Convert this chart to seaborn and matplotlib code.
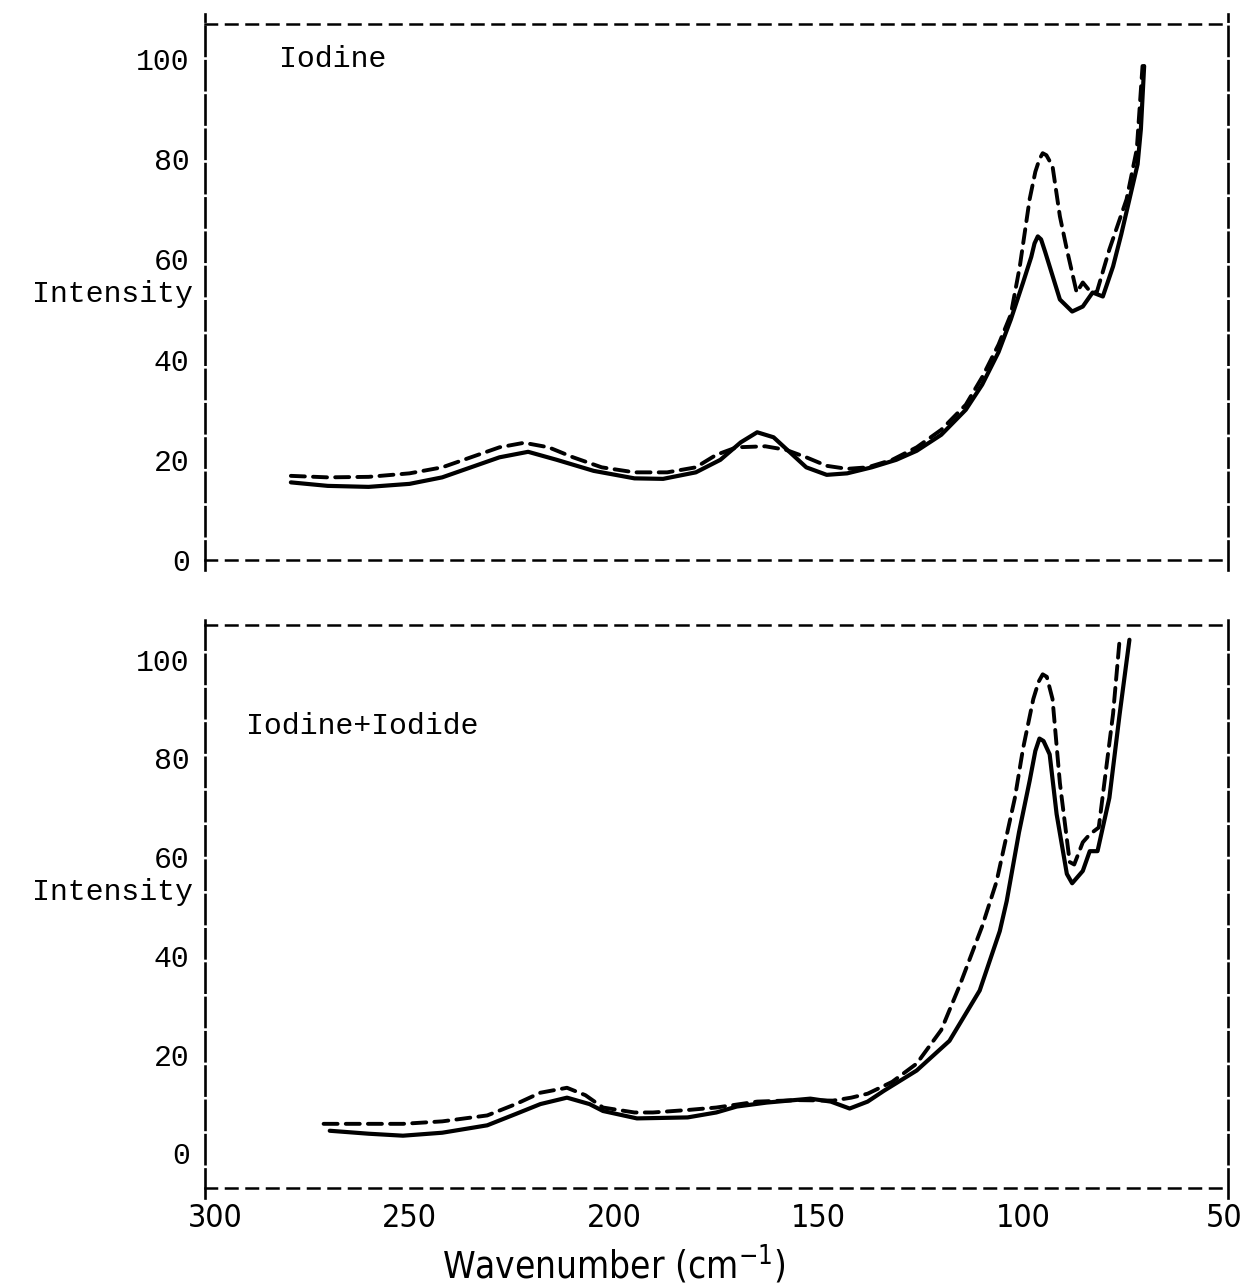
import numpy as np
import pandas as pd
import seaborn as sns
import matplotlib
matplotlib.use("Agg")
import matplotlib.pyplot as plt
from matplotlib import font_manager
from matplotlib.font_manager import FontProperties
from matplotlib.transforms import blended_transform_factory, ScaledTranslation

# ---- spectra: wavenumber (cm^-1) and intensity ----
iodine_solid_x = [279, 270, 260, 250, 242, 235, 228, 221, 214, 205, 195, 188, 180, 174, 169,
                  165, 161, 157, 153, 148, 143, 137, 131, 126, 120, 114, 110, 106, 103, 100,
                  98, 97.2, 96.4, 95.6, 94.6, 93.5, 91, 88, 85.4, 83, 80.5, 78, 76, 74, 72, 71.2, 70.4]
iodine_solid_y = [15.5, 14.8, 14.6, 15.2, 16.5, 18.5, 20.5, 21.6, 20.0, 17.8, 16.3, 16.2, 17.5, 20.0, 23.5,
                  25.5, 24.5, 21.5, 18.5, 17.0, 17.3, 18.5, 20.0, 21.8, 25.0, 30.0, 35.0, 41.5, 48.0, 55.4,
                  60.5, 63.2, 64.6, 64.0, 61.5, 58.6, 52.0, 49.6, 50.6, 53.4, 52.6, 58.6, 65.0, 72.0, 79.0, 86.0, 98.6]

iodine_dash_x = [279, 270, 260, 250, 242, 235, 228, 222, 216, 210, 203, 195, 187, 180, 175,
                 170, 163, 158, 153, 148, 143, 138, 132, 126, 120, 114, 110, 106, 103, 100.8,
                 98.4, 97, 96, 95.2, 94.3, 92.8, 91, 89.3, 86.9, 85.4, 84, 82, 78.9, 74.7, 72.2, 70.8]
iodine_dash_y = [16.8, 16.5, 16.6, 17.3, 18.5, 20.5, 22.5, 23.4, 22.5, 20.5, 18.5, 17.5, 17.5, 18.5, 21.0,
                 22.5, 22.7, 22.0, 20.5, 18.8, 18.2, 18.5, 20.0, 22.5, 26.0, 31.0, 36.5, 43.0, 49.0, 58.6,
                 72.0, 77.5, 80.0, 81.2, 80.8, 78.6, 68.6, 62.0, 53.4, 55.4, 54.0, 53.4, 62.0, 72.0, 82.0, 98.6]

iodide_solid_x = [269.5, 260, 251.6, 242, 231, 224, 218, 211.5, 206, 202.7, 194.4, 182, 175, 170,
                  162.7, 152, 147, 142.4, 138, 134, 126, 118, 110.6, 105.7, 104, 101, 98.4, 97, 96,
                  95, 93.5, 91.8, 89.3, 88, 85.4, 83.7, 81.8, 78.9, 76.4, 74]
iodide_solid_y = [4.6, 4.0, 3.6, 4.2, 5.7, 8.0, 10.0, 11.3, 10.0, 8.6, 7.1, 7.3, 8.3, 9.5,
                  10.3, 11.1, 10.5, 9.1, 10.5, 12.7, 16.8, 22.8, 33.0, 45.0, 51.1, 65.0, 75.4, 81.5, 84.0,
                  83.5, 80.8, 68.7, 56.6, 54.7, 57.2, 61.2, 61.2, 72.0, 88.9, 104.0]

iodide_dash_x = [271, 260, 251.6, 242, 231, 224, 218, 211.5, 207, 202.7, 195, 190.5, 182, 175,
                 165, 155, 146.5, 142, 138, 132, 126, 120, 115.5, 110, 106.5, 102, 100, 97.5,
                 96.2, 95.2, 94.2, 92.8, 91, 88.6, 87.5, 85.4, 83.7, 81.5, 78, 76.4]
iodide_dash_y = [6.0, 6.0, 6.0, 6.5, 7.7, 10.0, 12.3, 13.3, 11.8, 9.3, 8.3, 8.3, 8.8, 9.3,
                 10.5, 10.8, 10.7, 11.3, 12.1, 14.5, 18.2, 25.0, 34.0, 46.0, 55.0, 72.0, 82.0, 92.0,
                 95.5, 97.0, 96.5, 92.0, 75.0, 59.0, 58.5, 63.0, 64.6, 66.0, 89.0, 104.0]

y_ticks = [0, 20, 40, 60, 80, 100]
x_ticks = [300, 250, 200, 150, 100, 50]
panel_titles = ["Iodine", "Iodine+Iodide"]

# ---- fonts ----
sns.set_style("white")
available = {f.name for f in font_manager.fontManager.ttflist}
mono = "Liberation Mono" if "Liberation Mono" in available else "DejaVu Sans Mono"
plt.rcParams["font.family"] = [mono, "DejaVu Sans"]
for key in ("text.color", "axes.labelcolor", "xtick.color", "ytick.color"):
    plt.rcParams[key] = "black"

# a condensed face for the wavenumber axis
narrow_file = None
for f in font_manager.fontManager.ttflist:
    if f.name == "Liberation Sans Narrow" and f.weight in (400, "normal") and f.style == "normal":
        narrow_file = f.fname
        break
if narrow_file is None:
    for f in font_manager.fontManager.ttflist:
        if "Condensed" in f.fname and f.name == "DejaVu Sans" and "Bold" not in f.fname \
                and "Oblique" not in f.fname:
            narrow_file = f.fname
            break
if narrow_file is not None:
    xfp = FontProperties(fname=narrow_file, size=23)
else:
    xfp = FontProperties(family="DejaVu Sans", size=21)

fig = plt.figure(figsize=(12.4, 12.88), dpi=100)
ax_top = fig.add_axes([0.1653, 0.5652, 0.8247, 0.4162])
ax_bot = fig.add_axes([0.1653, 0.0776, 0.8247, 0.4372])

panels = [
    (ax_top, iodine_solid_x, iodine_solid_y, iodine_dash_x, iodine_dash_y, (0, 107), (282, 100)),
    (ax_bot, iodide_solid_x, iodide_solid_y, iodide_dash_x, iodide_dash_y, (-7, 107), (290, 86.5)),
]

for (ax, sx, sy, dx, dy, ylim, title_xy), title in zip(panels, panel_titles):
    solid = pd.DataFrame({"wavenumber": sx, "intensity": sy})
    dashed = pd.DataFrame({"wavenumber": dx, "intensity": dy})
    sns.lineplot(data=solid, x="wavenumber", y="intensity", ax=ax, color="black",
                 linewidth=3.0, sort=False, estimator=None)
    sns.lineplot(data=dashed, x="wavenumber", y="intensity", ax=ax, color="black",
                 linewidth=2.8, sort=False, estimator=None)
    ax.lines[-1].set_linestyle((0, (3.6, 2.1)))
    for ln in ax.lines:
        ln.set_solid_capstyle("round")
        ln.set_dash_capstyle("round")
        ln.set_solid_joinstyle("round")
        ln.set_dash_joinstyle("round")

    ax.set_xlim(300, 50)
    ax.set_ylim(*ylim)
    ax.set_yticks(y_ticks)
    ax.set_yticklabels([str(v) for v in y_ticks])
    ax.tick_params(axis="y", length=0, pad=11, labelsize=21.5)
    ax.set_xlabel("")
    ax.set_ylabel("")

    # typewriter-style frame: long dashes on the sides, short dashes top and bottom
    for side in ("left", "right"):
        sp = ax.spines[side]
        sp.set_linewidth(1.9)
        sp.set_linestyle((0, (11, 2)))
        sp.set_color("black")
        sp.set_bounds(ylim[0] - 2, ylim[1] + 2)
    for side in ("top", "bottom"):
        sp = ax.spines[side]
        sp.set_linewidth(1.8)
        sp.set_linestyle((0, (4.6, 3.6)))
        sp.set_color("black")

    trans = blended_transform_factory(ax.transAxes, ax.transData)
    ax.text(-0.012, 53, "Intensity", transform=trans, ha="right", va="center", fontsize=21.5)
    ax.text(title_xy[0], title_xy[1], title, ha="left", va="center", fontsize=21.5)

ax_top.set_xticks(x_ticks)
ax_top.tick_params(axis="x", length=0, labelbottom=False)
ax_bot.set_xticks(x_ticks)
ax_bot.set_xticklabels([str(v) for v in x_ticks], fontproperties=xfp)
ax_bot.tick_params(axis="x", length=0, pad=11)
labels = ax_bot.get_xticklabels()
labels[0].set_transform(labels[0].get_transform() + ScaledTranslation(0.10, 0, fig.dpi_scale_trans))
labels[-1].set_transform(labels[-1].get_transform() + ScaledTranslation(-0.04, 0, fig.dpi_scale_trans))

xl_fp = xfp.copy()
xl_fp.set_size(xfp.get_size() + 3.5)
ax_bot.set_xlabel(r"Wavenumber (cm$^{\mathregular{-1}}$)", fontproperties=xl_fp, labelpad=10)
ax_bot.xaxis.set_label_coords(0.40, -0.097)

fig.savefig("out.png", dpi=100, facecolor="white")
